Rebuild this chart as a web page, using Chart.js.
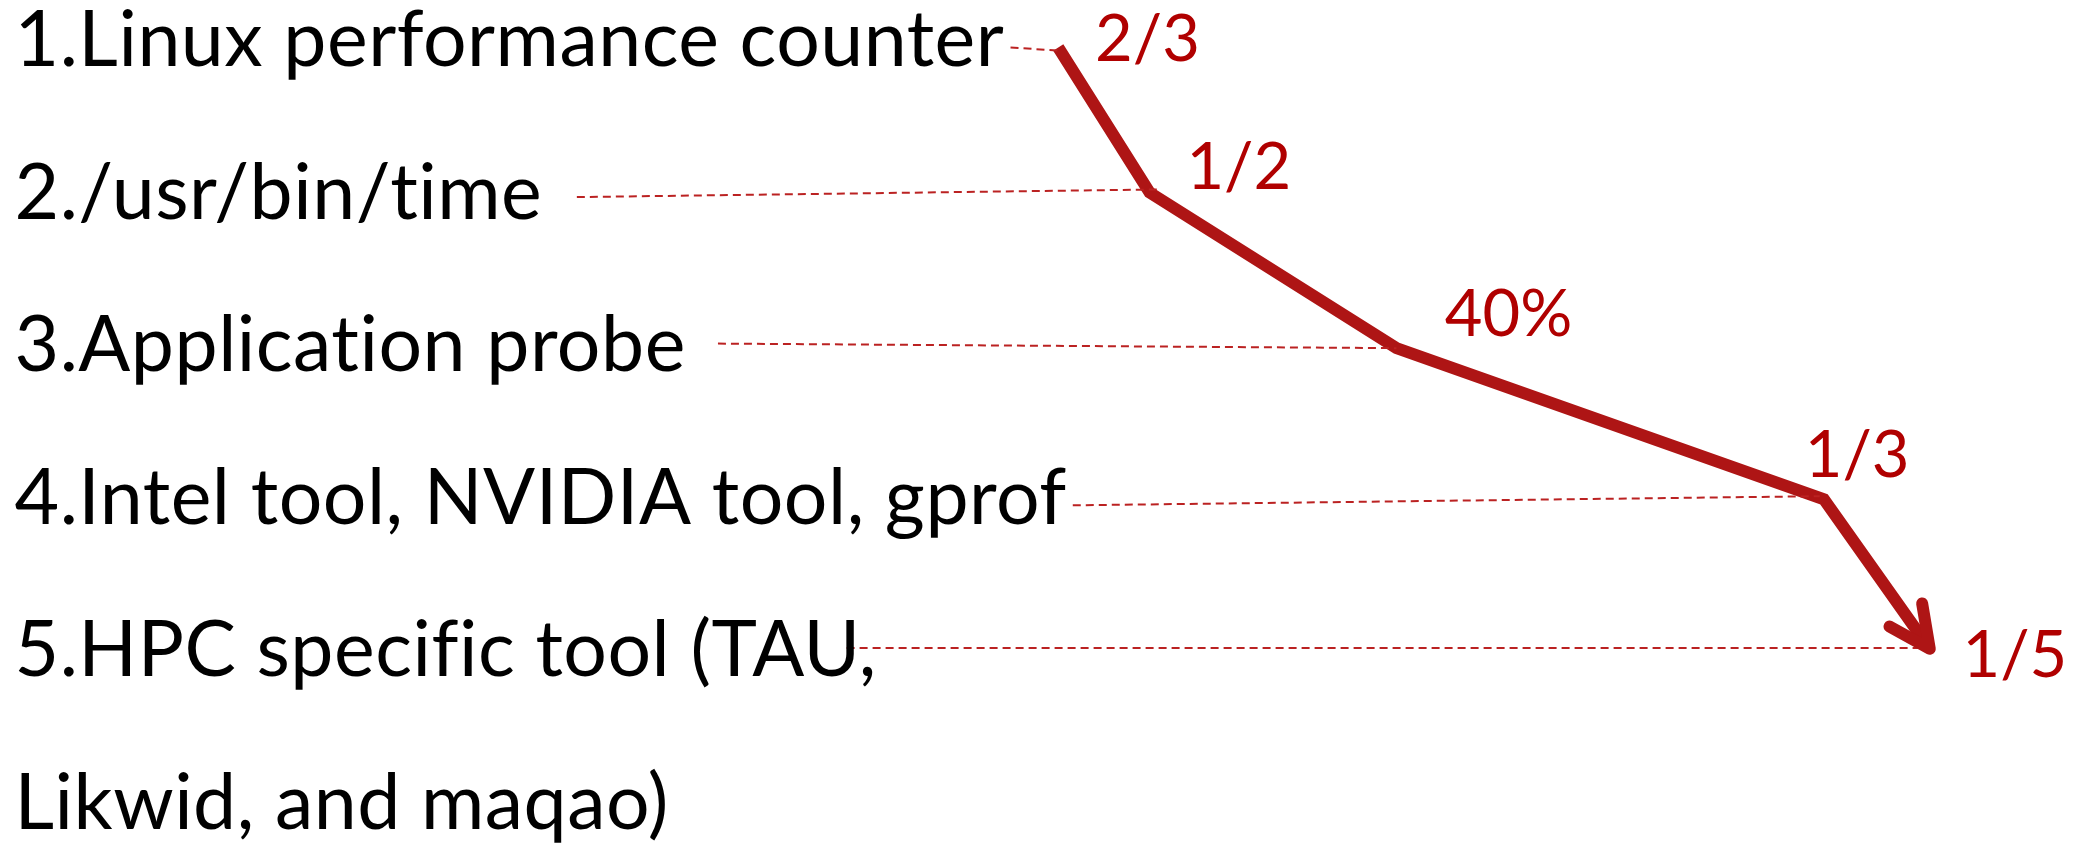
<!DOCTYPE html>
<html>
<head>
<meta charset="utf-8">
<script src="https://cdn.jsdelivr.net/npm/chart.js@4.4.1/dist/chart.umd.min.js"></script>
<style>
  html, body { margin: 0; padding: 0; background: #fff; }
  #wrap { position: relative; width: 2075px; height: 849px; }
</style>
</head>
<body>
<div id="wrap"><canvas id="toolChart"></canvas></div>
<script>
// tool list, one entry per text line (item 5 wraps onto a 2nd line)
let toolLines = [
    "1.Linux performance counter",
    "2./usr/bin/time",
    "3.Application probe",
    "4.Intel tool, NVIDIA tool, gprof",
    "5.HPC specific tool (TAU,",
    "Likwid, and maqao)"
];
let toolLineRank = [1, 2, 3, 4, 5, 6];

// share labels next to the red curve
let shareLabels = ["2/3", "1/2", "40%", "1/3", "1/5"];
let shareLabelX = [55.3, 59.7, 72.7, 89.5, 97.1];
let shareLabelRank = [0.96, 1.80, 2.76, 3.69, 5.0];

// red curve (x = % of width, y = tool rank)
let curveX = [51.0, 55.4, 67.3, 87.9, 93.0];
let curveRank = [1.01, 1.96, 2.98, 3.97, 4.95];

// dashed leaders from each tool name to the curve
let leaderStartX = [48.7, 27.8, 34.6, 51.7, 40.8];
let leaderStartRank = [1.01, 1.99, 2.95, 4.01, 4.945];
let leaderEndX = [51.0, 55.8, 67.3, 87.7, 92.8];
let leaderEndRank = [1.03, 1.94, 2.98, 3.95, 4.945];

const RED = "#ae1515";
const DASH_RED = "#bb2222";
const TEXT_RED = "#b00000";

function buildDatasets() {
    let sets = [];
    // leaders first so the curve sits on top
    for (let i = 0; i < leaderStartX.length; i++) {
        sets.push({
            data: [
                { x: leaderStartX[i], y: leaderStartRank[i] },
                { x: leaderEndX[i], y: leaderEndRank[i] }
            ],
            showLine: true,
            borderColor: DASH_RED,
            borderWidth: 2,
            borderDash: [8, 5],
            pointRadius: 0
        });
    }
    sets.push({
        data: curveX.map((x, i) => ({ x: x, y: curveRank[i] })),
        showLine: true,
        borderColor: RED,
        borderWidth: 12,
        borderCapStyle: "butt",
        borderJoinStyle: "miter",
        pointRadius: 0,
        tension: 0
    });
    return sets;
}

// texts + arrow head
const overlay = {
    id: "overlay",
    afterDatasetsDraw(chart) {
        let ctx = chart.ctx;
        let xs = chart.scales.x;
        let ys = chart.scales.y;

        // arrow head at the end of the curve
        let meta = chart.getDatasetMeta(chart.data.datasets.length - 1);
        let pts = meta.data;
        let tip = pts[pts.length - 1];
        let prev = pts[pts.length - 2];
        let ang = Math.atan2(tip.y - prev.y, tip.x - prev.x) + Math.PI;
        ctx.save();
        ctx.strokeStyle = RED;
        ctx.lineWidth = 12;
        ctx.lineCap = "round";
        ctx.lineJoin = "round";
        let len = 46, spread = 0.45;
        ctx.beginPath();
        ctx.moveTo(tip.x + len * Math.cos(ang - spread), tip.y + len * Math.sin(ang - spread));
        ctx.lineTo(tip.x, tip.y);
        ctx.lineTo(tip.x + len * Math.cos(ang + spread), tip.y + len * Math.sin(ang + spread));
        ctx.stroke();
        ctx.restore();

        // black tool names (small letter spacing also keeps ligatures off)
        ctx.save();
        ctx.fillStyle = "#000";
        ctx.font = "77px Lato";
        ctx.letterSpacing = "0.5px";
        ctx.textAlign = "left";
        ctx.textBaseline = "alphabetic";
        toolLines.forEach((t, i) => {
            ctx.fillText(t, xs.getPixelForValue(0.7), ys.getPixelForValue(toolLineRank[i]) + 20);
        });
        ctx.restore();

        // red share labels
        ctx.save();
        ctx.fillStyle = TEXT_RED;
        ctx.font = "65px Lato";
        ctx.textAlign = "center";
        ctx.textBaseline = "middle";
        shareLabels.forEach((t, i) => {
            ctx.fillText(t, xs.getPixelForValue(shareLabelX[i]), ys.getPixelForValue(shareLabelRank[i]));
        });
        ctx.restore();
    }
};

let chart = new Chart(document.getElementById("toolChart").getContext("2d"), {
    type: "scatter",
    data: { datasets: buildDatasets() },
    options: {
        responsive: true,
        maintainAspectRatio: false,
        animation: false,
        layout: { padding: 0 },
        plugins: { legend: { display: false }, tooltip: { enabled: false } },
        scales: {
            x: { type: "linear", min: 0, max: 100, display: false },
            y: { type: "linear", min: 0.6986, max: 6.262, reverse: true, display: false }
        }
    },
    plugins: [overlay]
});
</script>
</body>
</html>
